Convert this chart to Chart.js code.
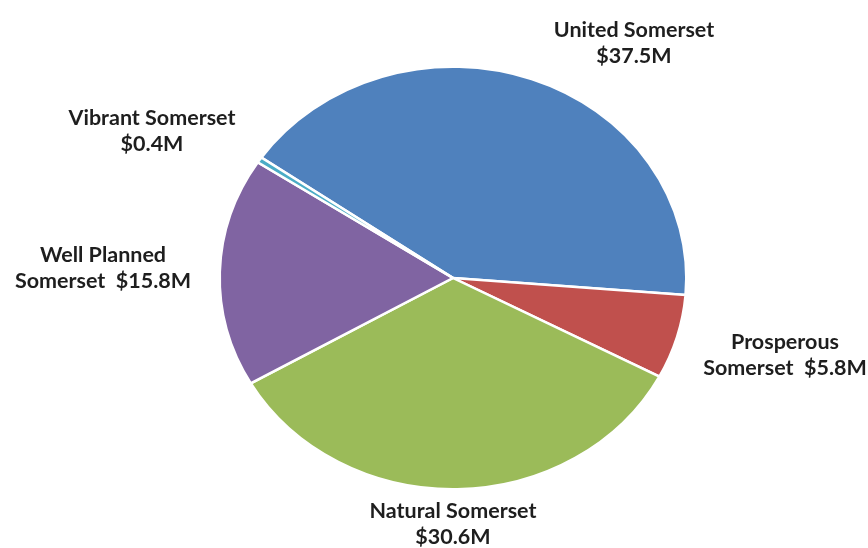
<!DOCTYPE html>
<html>
<head>
<meta charset="utf-8">
<script src="https://cdn.jsdelivr.net/npm/chart.js@4/dist/chart.umd.min.js"></script>
<style>
  html, body { margin: 0; padding: 0; background: #ffffff; }
  #wrap { width: 868px; height: 548px; position: relative; }
</style>
</head>
<body>
<div id="wrap"><canvas id="c" width="868" height="548"></canvas></div>
<script>
// ---- data ----
const categories = ["United Somerset", "Prosperous Somerset", "Natural Somerset", "Well Planned Somerset", "Vibrant Somerset"];
const values = [37.5, 5.8, 30.6, 15.8, 0.4];
const valueLabels = ["$37.5M", "$5.8M", "$30.6M", "$15.8M", "$0.4M"];
const colors = ["#4F81BD", "#C0504D", "#9BBB59", "#8064A2", "#4BACC6"];

// label text lines (as shown in the chart)
const labelLines = [
  ["United Somerset", valueLabels[0]],
  ["Prosperous", "Somerset  " + valueLabels[1]],
  ["Natural Somerset", valueLabels[2]],
  ["Well Planned", "Somerset  " + valueLabels[3]],
  ["Vibrant Somerset", valueLabels[4]]
];

// label layout (centre x, first-line y) — presentation only
const labelLayout = [
  { x: 634, y: 30 },
  { x: 785, y: 342 },
  { x: 453, y: 511 },
  { x: 103, y: 255 },
  { x: 152, y: 118 }
];

const X_STRETCH = 1.105; // the original pie is slightly wider than tall

const ellipsePlugin = {
  id: 'ellipse',
  beforeDatasetsDraw(chart) {
    const arc = chart.getDatasetMeta(0).data[0];
    if (!arc) return;
    const ctx = chart.ctx;
    ctx.save();
    ctx.translate(arc.x, arc.y);
    ctx.scale(X_STRETCH, 1);
    ctx.translate(-arc.x, -arc.y);
  },
  afterDatasetsDraw(chart) {
    chart.ctx.restore();
  }
};

const labelPlugin = {
  id: 'outLabels',
  afterDraw(chart) {
    const ctx = chart.ctx;
    ctx.save();
    ctx.fillStyle = '#1e1e1e';
    ctx.font = 'bold 21.5px Lato, "Open Sans", sans-serif';
    ctx.textAlign = 'center';
    ctx.textBaseline = 'middle';
    labelLines.forEach((lines, i) => {
      const p = labelLayout[i];
      lines.forEach((t, j) => ctx.fillText(t, p.x, p.y + j * 26.5));
    });
    ctx.restore();
  }
};

new Chart(document.getElementById('c'), {
  type: 'pie',
  data: {
    labels: categories,
    datasets: [{
      data: values,
      backgroundColor: colors,
      borderColor: '#ffffff',
      borderWidth: 2.5
    }]
  },
  options: {
    responsive: false,
    animation: false,
    rotation: -55.2,
    layout: { padding: { left: 38, right: 0, top: 65.5, bottom: 57.5 } },
    plugins: {
      legend: { display: false },
      tooltip: { enabled: false },
      title: { display: false }
    },
    events: []
  },
  plugins: [ellipsePlugin, labelPlugin]
});
</script>
</body>
</html>
